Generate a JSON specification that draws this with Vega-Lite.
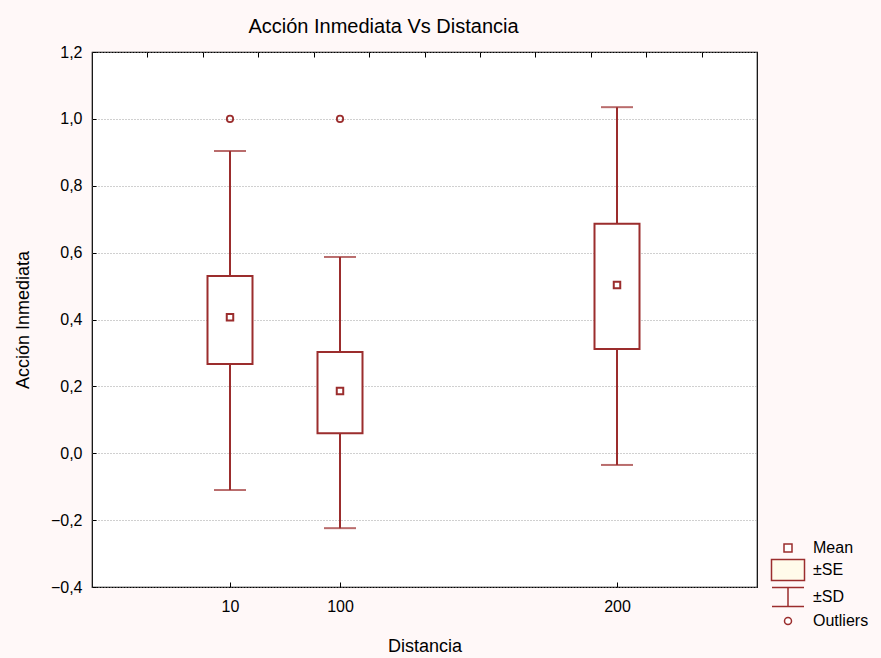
{
  "$schema": "https://vega.github.io/schema/vega-lite/v6.json",
  "width": 665,
  "height": 535,
  "autosize": "none",
  "padding": {"left": 92, "top": 52, "right": 124, "bottom": 71},
  "background": "#fff8f8",
  "config": {
    "font": "Liberation Sans",
    "view": {"stroke": "#000000", "strokeWidth": 1.2, "fill": "#ffffff"},
    "axis": {"domain": false, "labelFont": "Liberation Sans", "titleFont": "Liberation Sans", "labelColor": "#000000", "titleColor": "#000000", "tickColor": "#000000", "titleFontWeight": "normal"}
  },
  "title": {"text": "Acción Inmediata Vs Distancia", "fontSize": 20, "fontWeight": "normal", "color": "#000000", "dx": -41, "offset": 7, "font": "Liberation Sans"},
  "datasets": {
    "stats": [
      {"Distancia": 10, "mean": 0.407, "se_lo": 0.267, "se_hi": 0.530, "sd_lo": -0.110, "sd_hi": 0.904},
      {"Distancia": 100, "mean": 0.186, "se_lo": 0.060, "se_hi": 0.303, "sd_lo": -0.224, "sd_hi": 0.587},
      {"Distancia": 200, "mean": 0.503, "se_lo": 0.312, "se_hi": 0.686, "sd_lo": -0.035, "sd_hi": 1.035}
    ],
    "outliers": [
      {"Distancia": 10, "value": 1.0},
      {"Distancia": 100, "value": 1.0}
    ],
    "legend": [
      {"item": "Mean"}, {"item": "±SE"}, {"item": "±SD"}, {"item": "Outliers"}
    ],
    "topticks": [{"t": 0}, {"t": 12}]
  },
  "resolve": {"scale": {"x": "independent"}, "axis": {"x": "independent"}},
  "layer": [
    {
      "data": {"name": "topticks"},
      "mark": {"type": "point", "opacity": 0},
      "encoding": {
        "x": {"field": "t", "type": "quantitative", "scale": {"domain": [0, 12], "nice": false, "zero": false},
              "axis": {"orient": "top", "values": [1,2,3,4,5,6,7,8,9,10,11], "labels": false, "title": null, "tickSize": -5, "grid": false}}
      }
    },
    {
      "data": {"name": "stats"},
      "layer": [
        {
          "mark": {"type": "rule", "color": "#9b2d2d", "strokeWidth": 2},
          "encoding": {
            "x": {"field": "Distancia", "type": "quantitative",
                  "scale": {"domain": [-29.2, 10, 100, 200, 250.5], "range": [0, 138, 248, 525, 665], "nice": false, "zero": false},
                  "axis": {"orient": "bottom", "values": [10, 100, 200], "title": "Distancia", "titleFontSize": 18, "labelFontSize": 16, "tickSize": -5, "labelPadding": 16, "titlePadding": 23, "grid": false}},
            "y": {"field": "sd_lo", "type": "quantitative",
                  "scale": {"domain": [-0.4, 1.2], "nice": false, "zero": false},
                  "axis": {"title": "Acción Inmediata", "titleFontSize": 18, "labelFontSize": 16, "values": [-0.4, -0.2, 0, 0.2, 0.4, 0.6, 0.8, 1.0, 1.2], "labelExpr": "replace(format(datum.value, '.1f'), '.', ',')", "tickSize": -4, "labelPadding": 14, "titlePadding": 18, "grid": true, "gridColor": "#a0a0a0", "gridDash": [1, 2], "gridWidth": 1}},
            "y2": {"field": "sd_hi"}
          }
        },
        {
          "mark": {"type": "tick", "color": "#9b2d2d", "orient": "horizontal", "size": 32, "thickness": 2},
          "encoding": {
            "x": {"field": "Distancia", "type": "quantitative"},
            "y": {"field": "sd_hi", "type": "quantitative"}
          }
        },
        {
          "mark": {"type": "tick", "color": "#9b2d2d", "orient": "horizontal", "size": 32, "thickness": 2},
          "encoding": {
            "x": {"field": "Distancia", "type": "quantitative"},
            "y": {"field": "sd_lo", "type": "quantitative"}
          }
        },
        {
          "mark": {"type": "bar", "size": 45, "fill": "#ffffff", "stroke": "#9b2d2d", "strokeWidth": 2},
          "encoding": {
            "x": {"field": "Distancia", "type": "quantitative"},
            "y": {"field": "se_lo", "type": "quantitative"},
            "y2": {"field": "se_hi"}
          }
        },
        {
          "mark": {"type": "point", "shape": "square", "size": 42, "filled": false, "stroke": "#9b2d2d", "strokeWidth": 2, "opacity": 1},
          "encoding": {
            "x": {"field": "Distancia", "type": "quantitative"},
            "y": {"field": "mean", "type": "quantitative"}
          }
        },
        {
          "data": {"name": "outliers"},
          "mark": {"type": "point", "shape": "circle", "size": 40, "filled": false, "stroke": "#9b2d2d", "strokeWidth": 1.8, "opacity": 1},
          "encoding": {
            "x": {"field": "Distancia", "type": "quantitative"},
            "y": {"field": "value", "type": "quantitative"}
          }
        },
        {
          "data": {"name": "legend"},
          "mark": {"type": "point", "stroke": "#9b2d2d", "strokeWidth": 1.5, "opacity": 1},
          "encoding": {
            "y": {"field": "missing", "type": "quantitative"},
            "shape": {"field": "item", "type": "nominal",
                      "scale": {"domain": ["Mean", "±SE", "±SD", "Outliers"],
                                "range": ["M-0.4,-0.4H0.4V0.4H-0.4Z", "M-1.65,-1.05H1.65V1.05H-1.65Z", "M-1.6,-0.95H1.6M0,-0.95V0.95M-1.6,0.95H1.6", "M0.35,0A0.35,0.35,0,1,1,-0.35,0A0.35,0.35,0,1,1,0.35,0Z"]},
                      "legend": {"title": null, "orient": "none", "legendX": 685, "legendY": 485, "symbolSize": 400, "labelFontSize": 16, "labelColor": "#000000", "labelFont": "Liberation Sans", "labelOffset": 14, "rowPadding": 0, "padding": 0,
                                 "encode": {"symbols": {"update": {"stroke": {"value": "#9b2d2d"}, "strokeWidth": {"value": 1.5}, "opacity": {"value": 1}}}}}},
            "fill": {"field": "item", "type": "nominal",
                     "scale": {"domain": ["Mean", "±SE", "±SD", "Outliers"], "range": ["#ffffff", "#fffbea", "transparent", "#ffffff"]},
                     "legend": {"title": null, "orient": "none", "legendX": 685, "legendY": 485, "symbolSize": 400, "labelFontSize": 16, "labelColor": "#000000", "labelFont": "Liberation Sans", "labelOffset": 14, "rowPadding": 0, "padding": 0,
                                "encode": {"symbols": {"update": {"stroke": {"value": "#9b2d2d"}, "strokeWidth": {"value": 1.5}, "opacity": {"value": 1}}}}}}
          }
        }
      ]
    }
  ]
}
